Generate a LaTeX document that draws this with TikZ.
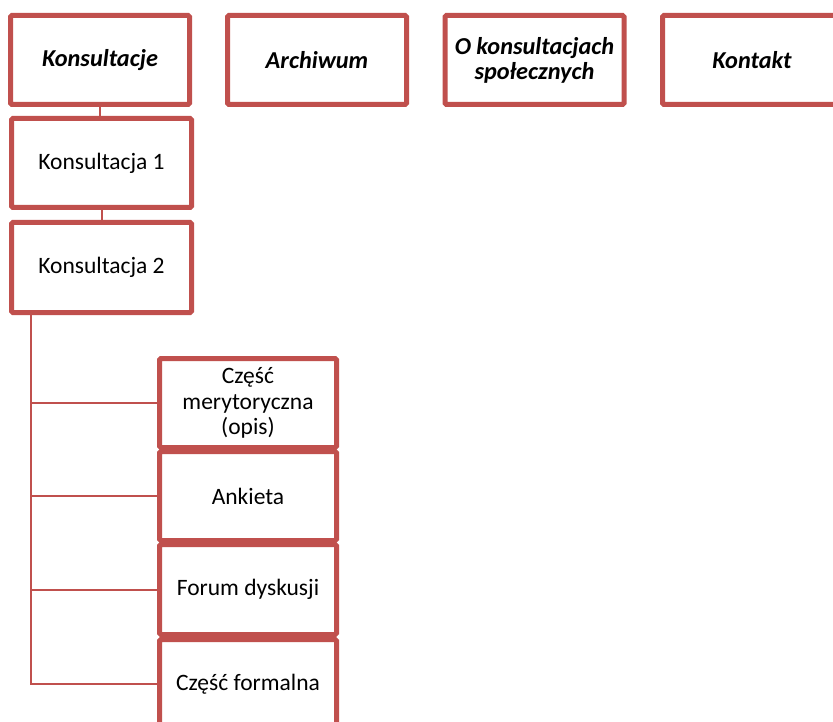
\documentclass[tikz,border=0pt]{standalone}
\usepackage{fontspec}
\setmainfont{Carlito}
\usetikzlibrary{backgrounds}
\definecolor{boxred}{HTML}{C0504D}
\begin{document}
\begin{tikzpicture}[x=1pt,y=-1pt,
  box/.style={draw=boxred, line width=5pt, fill=white, rounded corners=1.5pt,
    inner sep=0pt, align=center, font=\fontsize{23.5}{25.5}\selectfont},
  topbox/.style={box, minimum width=179pt, minimum height=89pt,
    font=\fontsize{24.3}{25}\selectfont\bfseries\itshape},
  subbox/.style={box, minimum width=180pt},
  childbox/.style={box, minimum width=177pt},
  link/.style={draw=boxred, line width=2pt}]
\useasboundingbox (0,0) rectangle (833,722);
\clip (0,0) rectangle (833,722);
% boxes
\node[topbox] (k) at (100,60) {Konsultacje};
\node[topbox] (a) at (317,60) {Archiwum};
\node[topbox] (o) at (534.5,60) {O konsultacjach\\społecznych};
\node[topbox] (kt) at (752,60) {Kontakt};
\node[subbox, minimum height=89pt] (k1) at (101.5,163) {Konsultacja 1};
\node[subbox, minimum height=90pt] (k2) at (101.5,267.5) {Konsultacja 2};
\node[childbox, minimum height=89pt] (c1) at (248,403) {Część\\merytoryczna\\(opis)};
\node[childbox, minimum height=89pt] (c2) at (248,496) {Ankieta};
\node[childbox, minimum height=90pt] (c3) at (248,589.5) {Forum dyskusji};
\node[childbox, minimum height=89pt] (c4) at (248,684) {Część formalna};
% connectors behind the boxes
\begin{scope}[on background layer]
\coordinate (trunk) at (31,312.5);
\draw[link] (k.south) -- (k.south |- k1.north);
\draw[link] (k1.south) -- (k1.south |- k2.north);
\draw[link] (trunk) |- (c4.west);
\draw[link] (trunk |- c1.west) -- (c1.west);
\draw[link] (trunk |- c2.west) -- (c2.west);
\draw[link] (trunk |- c3.west) -- (c3.west);
\end{scope}
\end{tikzpicture}
\end{document}
